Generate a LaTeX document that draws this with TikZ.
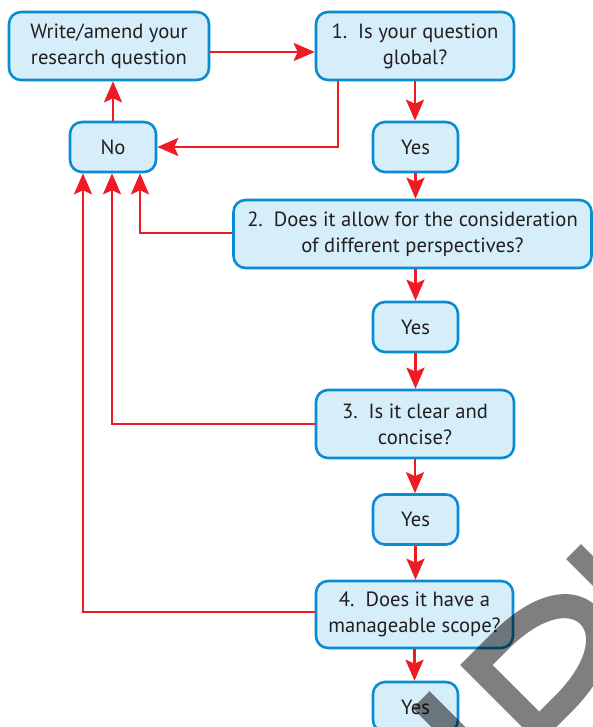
\documentclass[tikz,border=0pt]{standalone}
\usepackage{fontspec}
\setmainfont{PT Sans}
\usetikzlibrary{arrows.meta}
\definecolor{boxline}{RGB}{10,140,208}
\definecolor{boxfill}{RGB}{214,237,250}
\definecolor{flowred}{RGB}{237,28,36}
\definecolor{inktext}{RGB}{35,31,32}
\tikzset{
  box/.style={draw=boxline, fill=boxfill, line width=2.6pt, rounded corners=12pt,
    align=center, text=inktext, inner sep=0pt,
    font=\fontsize{20.6pt}{26pt}\selectfont},
  flow/.style={draw=flowred, line width=2.8pt,
    -{Stealth[length=21pt,width=18pt,inset=4pt]}},
  stamp/.style={fill=black, fill opacity=0.5, even odd rule}
}
\begin{document}
\begin{tikzpicture}[x=1pt, y=-1pt]
\useasboundingbox (0,0) rectangle (593,727);

% question boxes and answers
\node[box, minimum width=200pt, minimum height=68pt] (write) at (109,46) {Write/amend your\\research question};
\node[box, minimum width=86pt, minimum height=50pt] (no) at (113,147) {No};
\node[box, minimum width=198pt, minimum height=68pt] (q1) at (415,46) {1.\ \ Is your question\\global?};
\node[box, minimum width=85pt, minimum height=50pt] (yes1) at (415.5,147) {Yes};
\node[box, minimum width=358pt, minimum height=68pt] (q2) at (412.5,234) {2.\ \ Does it allow for the consideration\\of different perspectives?};
\node[box, minimum width=85pt, minimum height=50pt] (yes2) at (415.5,327) {Yes};
\node[box, minimum width=198pt, minimum height=68pt] (q3) at (415,424) {3.\ \ Is it clear and\\concise?};
\node[box, minimum width=85pt, minimum height=50pt] (yes3) at (415.5,519.5) {Yes};
\node[box, minimum width=197pt, minimum height=67pt] (q4) at (414.5,614.5) {4.\ \ Does it have a\\manageable scope?};
\node[box, minimum width=85pt, minimum height=50pt] (yes4) at (415.5,707) {Yes};

% main chain
\draw[flow] ([yshift=-6pt]write.east) -- ([yshift=-6pt]q1.west);
\draw[flow] (q1.south) -- (q1.south |- yes1.north);
\draw[flow] (yes1.south) -- (yes1.south |- q2.north);
\draw[flow] (q2.south -| yes2.north) -- (yes2.north);
\draw[flow] (yes2.south) -- (yes2.south |- q3.north);
\draw[flow] (q3.south) -- (q3.south |- yes3.north);
\draw[flow] (yes3.south) -- (yes3.south |- q4.north);
\draw[flow] (q4.south) -- (q4.south |- yes4.north);

% "no" branches
\draw[flow] ([xshift=-77pt]q1.south) |- (no.east);
\draw[flow] ([yshift=1pt]q2.west) -| ([xshift=27pt]no.south);
\draw[flow] (q3.west) -| ([xshift=-1pt]no.south);
\draw[flow] ([yshift=2.5pt]q4.west) -| ([xshift=-30pt]no.south);
\draw[flow] (no.north) -- (no.north |- write.south);

% stamp lettering, set at 45 degrees in the lower right corner
\begin{scope}
  \clip (0,0) rectangle (593,727);
  \begin{scope}[shift={(460,665)}, x=1pt, y=1pt, rotate=45]
    % letter D
    \path[stamp]
      (0,0) -- (45,0)
        .. controls (107,0) and (138,-25) .. (138,-56)
        .. controls (138,-87) and (107,-112) .. (45,-112)
        -- (0,-112) -- cycle
      (23,-23) -- (45,-23)
        .. controls (90,-23) and (114,-39) .. (114,-56)
        .. controls (114,-73) and (90,-89) .. (45,-89)
        -- (23,-89) -- cycle;
    % neighbouring stems
    \path[stamp] (-64,3) rectangle (-40,-112);
    \path[stamp] (150,0) rectangle (171,-112);
  \end{scope}
\end{scope}
\end{tikzpicture}
\end{document}
